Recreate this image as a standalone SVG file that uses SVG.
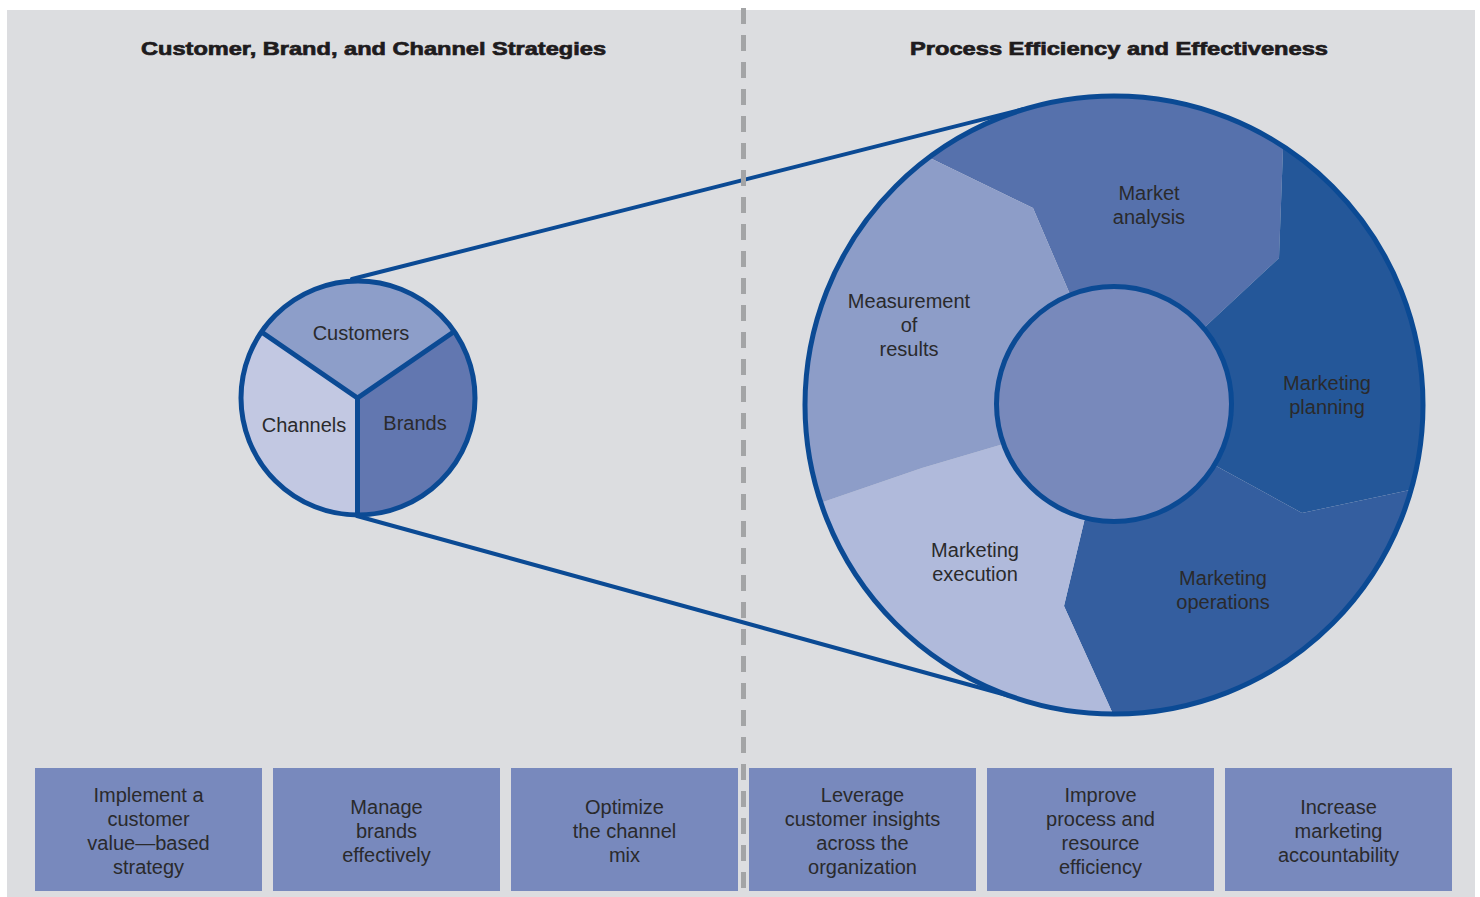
<svg xmlns="http://www.w3.org/2000/svg" width="1480" height="897" viewBox="0 0 1480 897">
  <style>
    .lbl { font-family: "Liberation Sans", Arial, sans-serif; font-size: 20px; fill: #2a2a2c; text-anchor: middle; }
    .head { font-family: "Liberation Sans", Arial, sans-serif; font-size: 19px; font-weight: bold; fill: #1e1b1d; stroke: #1e1b1d; stroke-width: 0.7; text-anchor: middle; }
    .box { fill: #7889bd; }
    .rim { fill: none; stroke: #0b4a94; stroke-width: 5; }
    .conn { fill: none; stroke: #0b4a94; stroke-width: 4; stroke-linecap: round; }
  </style>
  <defs>
    <clipPath id="ringClip">
      <circle cx="1114" cy="405" r="309"/>
    </clipPath>
  </defs>

  <!-- backdrop -->
  <rect x="0" y="0" width="1480" height="897" fill="#ffffff"/>
  <rect x="7" y="10" width="1468" height="887" fill="#dcdde0"/>

  <!-- column headings -->
  <text class="head" x="373.5" y="55" textLength="465" lengthAdjust="spacingAndGlyphs">Customer, Brand, and Channel Strategies</text>
  <text class="head" x="1119" y="55" textLength="418" lengthAdjust="spacingAndGlyphs">Process Efficiency and Effectiveness</text>

  <!-- connectors: zoom lines from the small pie to the large wheel -->
  <g id="connectors">
    <line class="conn" x1="352" y1="279" x2="1024" y2="109"/>
    <line class="conn" x1="357" y1="516" x2="1010" y2="696"/>
  </g>

  <!-- column divider -->
  <line x1="743.5" y1="8" x2="743.5" y2="890" stroke="#a3a4a6" stroke-width="5" stroke-dasharray="16 11"/>

  <!-- small pie: customers / brands / channels -->
  <g id="pie">
    <path id="pie-customers" d="M357.5,398 L261.5,332 A117,117 0 0 1 453.5,332 Z" fill="#8d9ec9"/>
    <path id="pie-brands" d="M357.5,398 L453.5,332 A117,117 0 0 1 357.5,515 Z" fill="#6277b0"/>
    <path id="pie-channels" d="M357.5,398 L357.5,515 A117,117 0 0 1 261.5,332 Z" fill="#c2c8e2"/>
    <g stroke="#0b4a94" stroke-width="5" fill="none">
      <path d="M261.5,332 L357.5,398 L453.5,332 M357.5,398 L357.5,515"/>
    </g>
    <circle class="rim" cx="358" cy="398" r="117"/>
    <text class="lbl" x="361" y="340">Customers</text>
    <text class="lbl" x="415" y="430">Brands</text>
    <text class="lbl" x="304" y="432">Channels</text>
  </g>

  <!-- large wheel: process steps -->
  <g id="wheel">
    <g clip-path="url(#ringClip)">
      <polygon id="seg-market-analysis" fill="#5671ac" points="1114,405 1069,292 1033,208 930,158 838,34 1114,-20 1368,21 1283,149 1279,258 1206,326"/>
      <polygon id="seg-planning" fill="#245799" points="1114,405 1206,326 1279,258 1283,149 1368,21 1560,21 1560,530 1410,490 1302,513 1218,467"/>
      <polygon id="seg-operations" fill="#345e9f" points="1114,405 1218,467 1302,513 1410,490 1560,530 1560,860 1113,860 1113,714 1064,606 1084,522"/>
      <polygon id="seg-execution" fill="#b0badb" points="1114,405 1084,522 1064,606 1113,714 1113,860 680,860 680,550 823,502 922,468 1000,445"/>
      <polygon id="seg-measurement" fill="#8d9dc8" points="1114,405 1000,445 922,468 823,502 680,550 680,0 838,34 930,158 1033,208 1069,292"/>
    </g>
    <circle class="rim" cx="1114" cy="405" r="309"/>
    <circle id="hub" cx="1114" cy="404" r="117.5" fill="#7889bb" stroke="#0b4a94" stroke-width="5"/>

    <text class="lbl" x="1149" y="200">Market</text>
    <text class="lbl" x="1149" y="224">analysis</text>
    <text class="lbl" x="909" y="308">Measurement</text>
    <text class="lbl" x="909" y="332">of</text>
    <text class="lbl" x="909" y="356">results</text>
    <text class="lbl" x="1327" y="390">Marketing</text>
    <text class="lbl" x="1327" y="414">planning</text>
    <text class="lbl" x="975" y="557">Marketing</text>
    <text class="lbl" x="975" y="581">execution</text>
    <text class="lbl" x="1223" y="585">Marketing</text>
    <text class="lbl" x="1223" y="609">operations</text>
  </g>

  <!-- goal boxes -->
  <g id="goal-customer-value">
    <rect class="box" x="35" y="768" width="227" height="123"/>
    <text class="lbl" x="148.5" y="802">Implement a</text>
    <text class="lbl" x="148.5" y="826">customer</text>
    <text class="lbl" x="148.5" y="850">value—based</text>
    <text class="lbl" x="148.5" y="874">strategy</text>
  </g>
  <g id="goal-brands">
    <rect class="box" x="273" y="768" width="227" height="123"/>
    <text class="lbl" x="386.5" y="814">Manage</text>
    <text class="lbl" x="386.5" y="838">brands</text>
    <text class="lbl" x="386.5" y="862">effectively</text>
  </g>
  <g id="goal-channel-mix">
    <rect class="box" x="511" y="768" width="227" height="123"/>
    <text class="lbl" x="624.5" y="814">Optimize</text>
    <text class="lbl" x="624.5" y="838">the channel</text>
    <text class="lbl" x="624.5" y="862">mix</text>
  </g>
  <g id="goal-insights">
    <rect class="box" x="749" y="768" width="227" height="123"/>
    <text class="lbl" x="862.5" y="802">Leverage</text>
    <text class="lbl" x="862.5" y="826">customer insights</text>
    <text class="lbl" x="862.5" y="850">across the</text>
    <text class="lbl" x="862.5" y="874">organization</text>
  </g>
  <g id="goal-efficiency">
    <rect class="box" x="987" y="768" width="227" height="123"/>
    <text class="lbl" x="1100.5" y="802">Improve</text>
    <text class="lbl" x="1100.5" y="826">process and</text>
    <text class="lbl" x="1100.5" y="850">resource</text>
    <text class="lbl" x="1100.5" y="874">efficiency</text>
  </g>
  <g id="goal-accountability">
    <rect class="box" x="1225" y="768" width="227" height="123"/>
    <text class="lbl" x="1338.5" y="814">Increase</text>
    <text class="lbl" x="1338.5" y="838">marketing</text>
    <text class="lbl" x="1338.5" y="862">accountability</text>
  </g>
</svg>
